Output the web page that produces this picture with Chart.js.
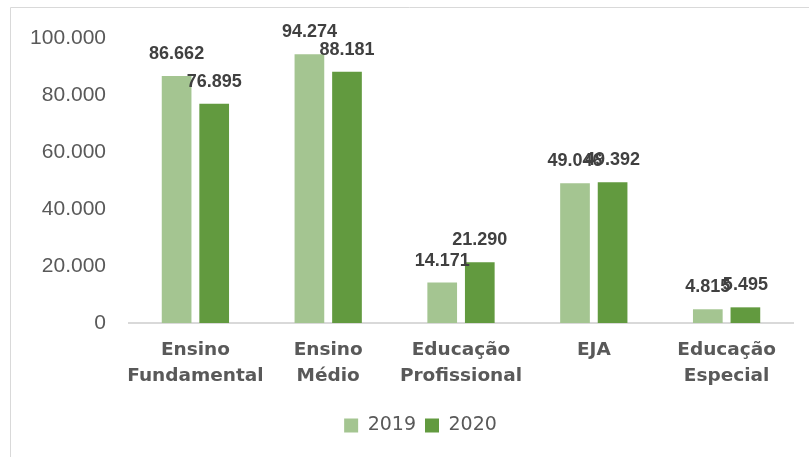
<!DOCTYPE html>
<html>
<head>
<meta charset="utf-8">
<script src="https://cdn.jsdelivr.net/npm/chart.js@4"></script>
<style>
  html, body { margin: 0; padding: 0; background: #fff; }
  #wrap { width: 809px; height: 457px; }
</style>
</head>
<body>
<div id="wrap"><canvas id="grafico" width="809" height="457"></canvas></div>
<script>
// dados
const categorias = [
    ['Ensino', 'Fundamental'],
    ['Ensino', 'Médio'],
    ['Educação', 'Profissional'],
    ['EJA'],
    ['Educação', 'Especial']
];
const anos = ['2019', '2020'];
const valores2019 = [86662, 94274, 14171, 49046, 4815];
const valores2020 = [76895, 88181, 21290, 49392, 5495];
const ticksY = [0, 20000, 40000, 60000, 80000, 100000];

const corClara = '#A4C591';
const corEscura = '#629A3F';
const cinzaTexto = '#595959';

// formato 12.345
function formatarMilhar(v) {
    return String(Math.round(v)).replace(/\B(?=(\d{3})+(?!\d))/g, '.');
}

// moldura cinza (esquerda e topo)
const moldura = {
    id: 'moldura',
    beforeDraw(chart) {
        const ctx = chart.ctx;
        ctx.save();
        ctx.strokeStyle = '#D9D9D9';
        ctx.lineWidth = 1;
        ctx.beginPath();
        ctx.moveTo(10.5, 457);
        ctx.lineTo(10.5, 7.5);
        ctx.lineTo(809, 7.5);
        ctx.stroke();
        ctx.restore();
    }
};

// rotulos de valor acima das barras
const rotulos = {
    id: 'rotulos',
    afterDatasetsDraw(chart) {
        const ctx = chart.ctx;
        ctx.save();
        ctx.font = 'bold 18px "Liberation Sans", Arial, sans-serif';
        ctx.fillStyle = '#404040';
        ctx.textAlign = 'center';
        ctx.textBaseline = 'middle';
        chart.data.datasets.forEach((ds, i) => {
            const meta = chart.getDatasetMeta(i);
            meta.data.forEach((bar, j) => {
                ctx.fillText(formatarMilhar(ds.data[j]), bar.x, bar.y - 22);
            });
        });
        ctx.restore();
    }
};

// desloca a legenda para o centro original
const legendaPos = {
    id: 'legendaPos',
    afterLayout(chart) {
        const lg = chart.legend;
        if (!lg) return;
        lg.left += 24;
        lg.right += 24;
    }
};

new Chart(document.getElementById('grafico'), {
    type: 'bar',
    data: {
        labels: categorias,
        datasets: [
            {
                label: anos[0],
                data: valores2019,
                backgroundColor: corClara,
                categoryPercentage: 0.566,
                barPercentage: 0.79
            },
            {
                label: anos[1],
                data: valores2020,
                backgroundColor: corEscura,
                categoryPercentage: 0.566,
                barPercentage: 0.79
            }
        ]
    },
    options: {
        responsive: false,
        animation: false,
        devicePixelRatio: 1,
        layout: {
            padding: { top: 38, right: 16, bottom: 12, left: 0 }
        },
        scales: {
            x: {
                grid: { display: false, drawTicks: false },
                border: { display: true, color: '#D9D9D9', width: 2 },
                ticks: {
                    color: cinzaTexto,
                    padding: 14,
                    maxRotation: 0,
                    autoSkip: false,
                    font: { family: '"DejaVu Sans", sans-serif', size: 18.5, weight: 'bold', lineHeight: 1.4 }
                },
                afterFit(scale) { scale.height = 84; }
            },
            y: {
                min: ticksY[0],
                max: ticksY[ticksY.length - 1],
                grid: { display: false, drawTicks: false },
                border: { display: false },
                afterBuildTicks(scale) {
                    scale.ticks = ticksY.map(v => ({ value: v }));
                },
                ticks: {
                    color: cinzaTexto,
                    padding: 23,
                    font: { family: '"Liberation Sans", Arial, sans-serif', size: 21 },
                    callback: v => formatarMilhar(v)
                },
                afterFit(scale) { scale.width = 129; }
            }
        },
        plugins: {
            legend: {
                position: 'bottom',
                labels: {
                    color: cinzaTexto,
                    boxWidth: 14,
                    boxHeight: 14,
                    padding: 9,
                    font: { family: '"DejaVu Sans", sans-serif', size: 19 }
                }
            },
            tooltip: { enabled: false }
        }
    },
    plugins: [moldura, rotulos, legendaPos]
});
</script>
</body>
</html>
